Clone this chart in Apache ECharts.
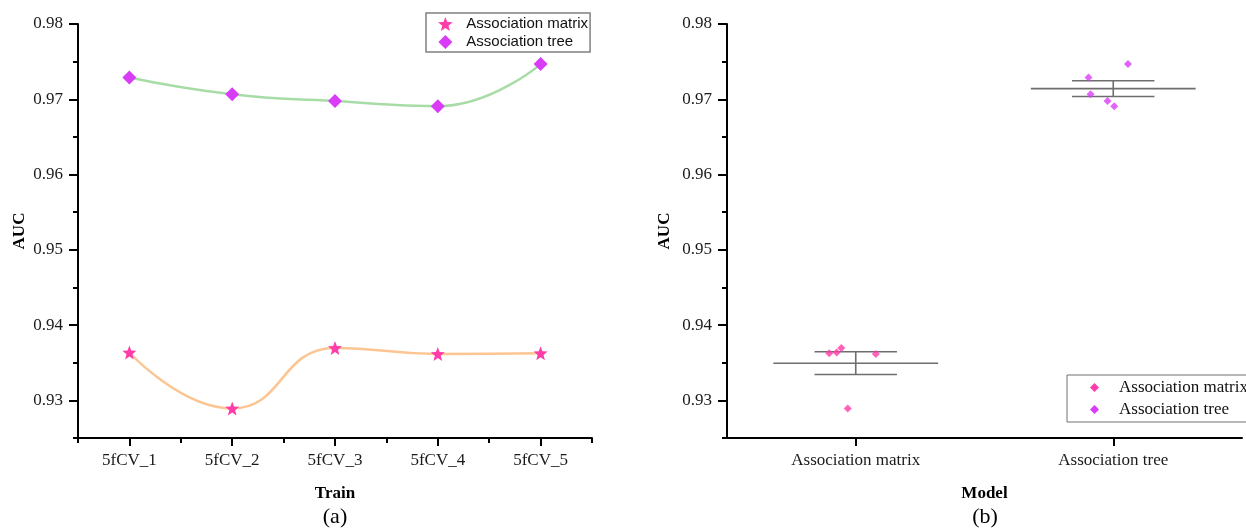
<!DOCTYPE html>
<html>
<head>
<meta charset="utf-8">
<script src="https://cdn.jsdelivr.net/npm/echarts@6/dist/echarts.min.js"></script>
<style>
  html, body { margin: 0; padding: 0; background: #ffffff; }
  #chart { width: 1246px; height: 529px; }
</style>
</head>
<body>
<div id="chart"></div>
<script>
// ---- data ----
const folds = ['5fCV_1', '5fCV_2', '5fCV_3', '5fCV_4', '5fCV_5'];
const models = ['Association matrix', 'Association tree'];
const aucMatrix = [0.93636, 0.92893, 0.93697, 0.93617, 0.93627];
const aucTree = [0.97290, 0.97067, 0.96977, 0.96907, 0.97467];
// horizontal spread of the points in panel (b), in category units
const jitterMatrix = [-0.074, -0.031, -0.056, 0.078, -0.103];
const jitterTree = [-0.096, -0.088, -0.022, 0.004, 0.057];
const yTicks = [0.93, 0.94, 0.95, 0.96, 0.97, 0.98];

// ---- helpers ----
function meanSE(arr) {
  const n = arr.length;
  const m = arr.reduce((a, b) => a + b, 0) / n;
  const v = arr.reduce((a, b) => a + (b - m) * (b - m), 0) / (n - 1);
  return [m, Math.sqrt(v) / Math.sqrt(n)];
}
const statMatrix = meanSE(aucMatrix);
const statTree = meanSE(aucTree);

const SERIF = "'Liberation Serif', 'Times New Roman', serif";
const SANS = "'Liberation Sans', Arial, sans-serif";
const PINK = '#ff3ca8';
const MAGENTA = '#d93cf7';
const STAR = 'path://M0,-10 L2.469,-3.398 L9.511,-3.090 L3.994,1.298 L5.878,8.090 L0,4.2 L-5.878,8.090 L-3.994,1.298 L-9.511,-3.090 L-2.469,-3.398 Z';
const DIAMOND = 'path://M0,-10 L10,0 L0,10 L-10,0 Z';

const axisLine = { show: true, onZero: false, lineStyle: { color: '#000', width: 2 } };
const tickLabel = { color: '#1a1a1a', fontFamily: SERIF, fontSize: 17 };

function majorY(gridIndex, nameGap) {
  return {
    type: 'value', gridIndex: gridIndex, position: 'left', min: 0.925, max: 0.98,
    name: 'AUC', nameLocation: 'middle', nameGap: nameGap, nameRotate: 90,
    nameTextStyle: { fontFamily: SERIF, fontSize: 17, fontWeight: 'bold', color: '#000' },
    axisLine: axisLine,
    axisTick: { show: true, inside: false, length: 9, customValues: yTicks, lineStyle: { color: '#000', width: 2 } },
    axisLabel: Object.assign({ margin: 15, customValues: yTicks, formatter: v => v.toFixed(2) }, tickLabel),
    splitLine: { show: false }
  };
}
function minorY(gridIndex) {
  return {
    type: 'value', gridIndex: gridIndex, position: 'left', offset: 0,
    min: 0.925, max: 0.98, interval: 0.005,
    axisLine: { show: false, onZero: false },
    axisTick: { show: true, inside: false, length: 5, lineStyle: { color: '#000', width: 2 } },
    axisLabel: { show: false },
    splitLine: { show: false }
  };
}

const chart = echarts.init(document.getElementById('chart'), null, { renderer: 'canvas' });

const option = {
  animation: false,
  backgroundColor: '#ffffff',
  title: [
    { text: '(a)', left: 335, top: 506, textAlign: 'center', padding: 0,
      textStyle: { fontFamily: SERIF, fontSize: 22, fontWeight: 'normal', color: '#000' } },
    { text: '(b)', left: 985, top: 506, textAlign: 'center', padding: 0,
      textStyle: { fontFamily: SERIF, fontSize: 22, fontWeight: 'normal', color: '#000' } }
  ],
  grid: [
    { left: 78, top: 24, width: 514, height: 414, outerBoundsMode: 'none' },
    { left: 727, top: 24, width: 515, height: 414, outerBoundsMode: 'none' }
  ],
  legend: [
    {
      orient: 'vertical', left: 426, top: 13,
      padding: [3, 2, 2, 12], itemGap: 2, itemWidth: 32, itemHeight: 14,
      symbolKeepAspect: true,
      borderColor: '#808080', borderWidth: 1.5, backgroundColor: '#fff',
      textStyle: { fontFamily: SANS, fontSize: 15, lineHeight: 16, color: '#111' },
      data: [
        { name: 'Association matrix', icon: STAR, itemStyle: { color: PINK } },
        { name: 'Association tree', icon: DIAMOND, itemStyle: { color: MAGENTA } }
      ]
    },
    {
      orient: 'vertical', left: 1067, top: 375,
      padding: [3, 6, 3, 23], itemGap: 3, itemWidth: 39, itemHeight: 9,
      symbolKeepAspect: true,
      borderColor: '#707070', borderWidth: 1, backgroundColor: '#fff',
      textStyle: { fontFamily: SERIF, fontSize: 17, lineHeight: 19, color: '#111' },
      data: [
        { name: 'Association matrix', icon: DIAMOND, itemStyle: { color: PINK } },
        { name: 'Association tree', icon: DIAMOND, itemStyle: { color: MAGENTA } }
      ]
    }
  ],
  xAxis: [
    { // panel (a) folds
      type: 'category', gridIndex: 0, position: 'bottom', data: folds, boundaryGap: true,
      name: 'Train', nameLocation: 'middle', nameGap: 47,
      nameTextStyle: { fontFamily: SERIF, fontSize: 17, fontWeight: 'bold', color: '#000' },
      axisLine: axisLine,
      axisTick: { show: true, alignWithLabel: true, length: 8, lineStyle: { color: '#000', width: 2 } },
      axisLabel: Object.assign({ margin: 14 }, tickLabel),
      splitLine: { show: false }
    },
    { // panel (a) short ticks between folds
      type: 'category', gridIndex: 0, position: 'bottom', offset: 0, data: folds, boundaryGap: true,
      axisLine: { show: false, onZero: false },
      axisTick: { show: true, alignWithLabel: false, length: 5, lineStyle: { color: '#000', width: 2 } },
      axisLabel: { show: false },
      splitLine: { show: false }
    },
    { // panel (b) models
      type: 'category', gridIndex: 1, position: 'bottom', data: models, boundaryGap: true,
      name: 'Model', nameLocation: 'middle', nameGap: 47,
      nameTextStyle: { fontFamily: SERIF, fontSize: 17, fontWeight: 'bold', color: '#000' },
      axisLine: axisLine,
      axisTick: { show: true, alignWithLabel: true, length: 8, lineStyle: { color: '#000', width: 2 } },
      axisLabel: Object.assign({ margin: 14 }, tickLabel),
      splitLine: { show: false }
    },
    { // panel (b) numeric positions for points and error bars
      type: 'value', gridIndex: 1, position: 'bottom', min: -0.5, max: 1.5, show: false,
      axisLine: { onZero: false }
    }
  ],
  yAxis: [majorY(0, 50), minorY(0), majorY(1, 54), minorY(1)],
  series: [
    {
      name: 'Association matrix', type: 'line', xAxisIndex: 0, yAxisIndex: 0,
      data: aucMatrix, smooth: 0.5,
      symbol: STAR, symbolSize: 14,
      itemStyle: { color: PINK },
      lineStyle: { color: '#fcc592', width: 2.5 },
      z: 3
    },
    {
      name: 'Association tree', type: 'line', xAxisIndex: 0, yAxisIndex: 0,
      data: aucTree, smooth: 0.5,
      symbol: DIAMOND, symbolSize: 14,
      itemStyle: { color: MAGENTA },
      lineStyle: { color: '#a8dca6', width: 2.5 },
      z: 3
    },
    {
      type: 'custom', xAxisIndex: 3, yAxisIndex: 2, z: 2,
      data: [[0, statMatrix[0], statMatrix[1]], [1, statTree[0], statTree[1]]],
      renderItem: function (params, api) {
        const x = api.value(0), m = api.value(1), s = api.value(2);
        const c = api.coord([x, m]);
        const up = api.coord([x, m + s]);
        const lo = api.coord([x, m - s]);
        const unit = api.size([1, 0])[0];
        const half = unit * 0.32, cap = unit * 0.16;
        const st = { stroke: '#6e6e6e', lineWidth: 1.6 };
        return {
          type: 'group',
          children: [
            { type: 'line', shape: { x1: c[0] - half, y1: c[1], x2: c[0] + half, y2: c[1] }, style: st },
            { type: 'line', shape: { x1: c[0] - cap, y1: up[1], x2: c[0] + cap, y2: up[1] }, style: st },
            { type: 'line', shape: { x1: c[0] - cap, y1: lo[1], x2: c[0] + cap, y2: lo[1] }, style: st },
            { type: 'line', shape: { x1: c[0], y1: up[1], x2: c[0], y2: lo[1] }, style: st }
          ]
        };
      }
    },
    {
      name: 'Association matrix', type: 'scatter', xAxisIndex: 3, yAxisIndex: 2,
      data: aucMatrix.map((v, i) => [0 + jitterMatrix[i], v]),
      symbol: DIAMOND, symbolSize: 8,
      itemStyle: { color: PINK }, z: 4
    },
    {
      name: 'Association tree', type: 'scatter', xAxisIndex: 3, yAxisIndex: 2,
      data: aucTree.map((v, i) => [1 + jitterTree[i], v]),
      symbol: DIAMOND, symbolSize: 8,
      itemStyle: { color: MAGENTA }, z: 4
    }
  ]
};

chart.setOption(option);
</script>
</body>
</html>
